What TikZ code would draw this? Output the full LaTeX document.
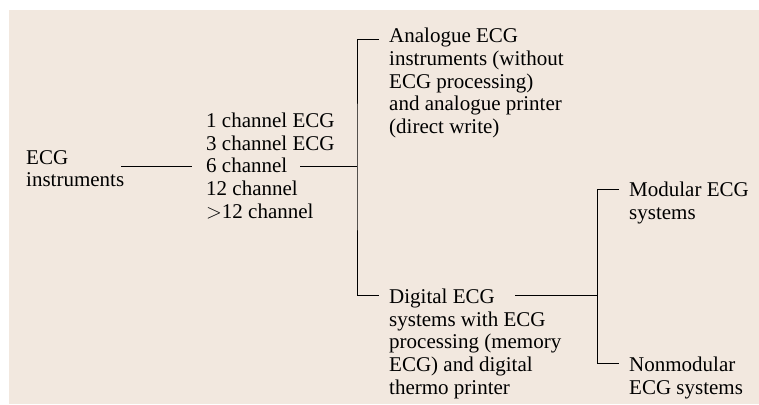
\documentclass[tikz,border=0pt]{standalone}
\usepackage{fontspec}
\setmainfont{Liberation Serif}
\begin{document}
\begin{tikzpicture}[x=1pt,y=-1pt,
  label/.style={anchor=base west,inner sep=0pt,align=left,
    font=\fontsize{21}{22.7}\selectfont,text=black},
  link/.style={draw=black,line width=0.9pt}]
\definecolor{paper}{HTML}{F2E8DF}
\useasboundingbox (0,0) rectangle (759,404);
\fill[paper] (9,10) rectangle (759,404);

% text blocks, each placed by the baseline of its last line
\node[label] (ecg) at (26,186.7) {ECG\\instruments};
\node[label] (chan) at (206,218.1) {1 channel ECG\\3 channel ECG\\6 channel\\12 channel\\${>}$12 channel};
\node[label] (ana) at (389,133.5) {Analogue ECG\\instruments (without\\ECG processing)\\and analogue printer\\(direct write)};
\node[label] (dig) at (389,394.1) {Digital ECG\\systems with ECG\\processing (memory\\ECG) and digital\\thermo printer};
\node[label] (mod) at (629,219.4) {Modular ECG\\systems};
\node[label] (nmod) at (629,394.4) {Nonmodular\\ECG systems};

% connector end points
\coordinate (s1) at (121,166.6);
\coordinate (e1) at (192,166.6);
\coordinate (s2) at (300,166.6);
\coordinate (j1) at (357,166.6);
\coordinate (ta) at (379,39);
\coordinate (tb) at (379,295.3);
\coordinate (s3) at (515,295.3);
\coordinate (j2) at (597,295.3);
\coordinate (tm) at (619,189);
\coordinate (tn) at (619,363.3);

\draw[link] (s1) -- (e1);
\draw[link] (s2) -- (j1);
\draw[link] (ta) -| (j1) |- (tb);
\draw[link] (s3) -- (j2);
\draw[link] (tm) -| (j2) |- (tn);
\end{tikzpicture}
\end{document}
